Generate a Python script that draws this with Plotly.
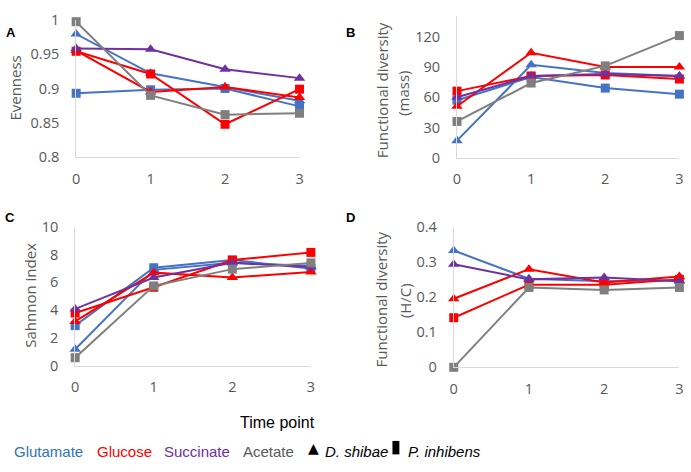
import plotly.graph_objects as go

# ---------------- data ----------------
time = [0, 1, 2, 3]
tick_labels_x = ["0", "1", "2", "3"]

# Panel A: Evenness
glu_tri_A = [0.979, 0.922, 0.902, 0.882]
glu_sq_A = [0.893, 0.898, 0.900, 0.874]
gluc_tri_A = [0.955, 0.895, 0.902, 0.887]
gluc_sq_A = [0.954, 0.921, 0.848, 0.899]
succ_tri_A = [0.958, 0.957, 0.928, 0.915]
acet_sq_A = [0.997, 0.890, 0.862, 0.864]

# Panel B: Functional diversity (mass)
glu_tri_B = [17, 92, 84, 81]
glu_sq_B = [57, 80, 69, 63]
gluc_tri_B = [51, 104, 90, 90]
gluc_sq_B = [66, 81, 82, 78]
succ_tri_B = [60, 81, 83, 81]
acet_sq_B = [36, 74, 91, 121]

# Panel C: Sahnnon index
glu_tri_C = [1.2, 6.9, 7.4, 7.2]
glu_sq_C = [2.9, 7.05, 7.6, 7.0]
gluc_tri_C = [3.2, 6.7, 6.35, 6.75]
gluc_sq_C = [3.8, 5.65, 7.6, 8.15]
succ_tri_C = [4.1, 6.35, 7.4, 7.1]
acet_sq_C = [0.6, 5.75, 6.95, 7.4]

# Panel D: Functional diversity (H/C)
glu_tri_D = [0.332, 0.252, 0.245, 0.247]
gluc_tri_D = [0.195, 0.279, 0.241, 0.258]
gluc_sq_D = [0.141, 0.235, 0.235, 0.250]
succ_tri_D = [0.293, 0.250, 0.255, 0.245]
acet_sq_D = [0.0, 0.227, 0.220, 0.227]

yticks_A = [0.8, 0.85, 0.9, 0.95, 1]
yticks_B = [0, 30, 60, 90, 120]
yticks_C = [0, 2, 4, 6, 8, 10]
yticks_D = [0, 0.1, 0.2, 0.3, 0.4]

BLUE = "#4472C4"
RED = "#FF0000"
PURPLE = "#7030A0"
GRAY = "#7F7F7F"

W, H = 691, 472

def px_x(p):
    return p / W

def px_y(p):
    return 1 - p / H

fig = go.Figure()

panels = [
    ("x", "y", [(glu_tri_A, BLUE, "triangle-up"), (glu_sq_A, BLUE, "square"),
                (gluc_tri_A, RED, "triangle-up"), (gluc_sq_A, RED, "square"),
                (succ_tri_A, PURPLE, "triangle-up"), (acet_sq_A, GRAY, "square")]),
    ("x2", "y2", [(glu_tri_B, BLUE, "triangle-up"), (glu_sq_B, BLUE, "square"),
                  (gluc_tri_B, RED, "triangle-up"), (gluc_sq_B, RED, "square"),
                  (succ_tri_B, PURPLE, "triangle-up"), (acet_sq_B, GRAY, "square")]),
    ("x3", "y3", [(glu_tri_C, BLUE, "triangle-up"), (glu_sq_C, BLUE, "square"),
                  (gluc_tri_C, RED, "triangle-up"), (gluc_sq_C, RED, "square"),
                  (succ_tri_C, PURPLE, "triangle-up"), (acet_sq_C, GRAY, "square")]),
    ("x4", "y4", [(glu_tri_D, BLUE, "triangle-up"),
                  (gluc_tri_D, RED, "triangle-up"), (gluc_sq_D, RED, "square"),
                  (succ_tri_D, PURPLE, "triangle-up"), (acet_sq_D, GRAY, "square")]),
]

for xa, ya, series in panels:
    for vals, col, sym in series:
        fig.add_trace(go.Scatter(
            x=time, y=vals, xaxis=xa, yaxis=ya, mode="lines+markers",
            line=dict(color=col, width=2),
            marker=dict(symbol=sym, size=10 if sym == "triangle-up" else 9, color=col),
            cliponaxis=False, showlegend=False, hoverinfo="skip"))

TICKFONT = dict(family="Open Sans", size=14.5, color="#595959")
AXLINE = "#D9D9D9"

def xaxis(domain, anchor):
    return dict(domain=domain, anchor=anchor, range=[0, 3], tickvals=time,
                ticktext=tick_labels_x, showgrid=False, zeroline=False,
                showline=True, linecolor=AXLINE, linewidth=1, ticks="",
                tickfont=TICKFONT, ticklabelstandoff=8, ticklabeloverflow="allow")

def yaxis(domain, anchor, rng, tv, fmt):
    return dict(domain=domain, anchor=anchor, range=rng, tickvals=tv,
                ticktext=[fmt(v) for v in tv], showgrid=False, zeroline=False,
                showline=True, linecolor=AXLINE, linewidth=1, ticks="",
                tickfont=TICKFONT, ticklabelstandoff=13, ticklabeloverflow="allow")

fig.update_layout(
    width=W, height=H, margin=dict(l=0, r=0, t=0, b=0),
    paper_bgcolor="white", plot_bgcolor="white",
    xaxis=xaxis([px_x(73), px_x(299)], "y"),
    yaxis=yaxis([px_y(153.5), px_y(10)], "x", [0.8, 1.0], yticks_A, lambda v: f"{v:g}"),
    xaxis2=xaxis([px_x(458.3), px_x(683.3)], "y2"),
    yaxis2=yaxis([px_y(154), px_y(6.65)], "x2", [0, 140], yticks_B, lambda v: f"{v:g}"),
    xaxis3=xaxis([px_x(72), px_x(310.5)], "y3"),
    yaxis3=yaxis([px_y(371), px_y(225.7)], "x3", [0, 10], yticks_C, lambda v: f"{v:g}"),
    xaxis4=xaxis([px_x(455), px_x(683.3)], "y4"),
    yaxis4=yaxis([px_y(372.3), px_y(225.7)], "x4", [0, 0.4], yticks_D, lambda v: f"{v:g}"),
)

ann = []
TITLEFONT = dict(family="Open Sans", size=15, color="#595959")
# y-axis titles
ann.append(dict(text="Evenness", x=px_x(11), y=px_y(81), textangle=-90, font=TITLEFONT))
ann.append(dict(text="Functional diversity", x=px_x(382), y=px_y(84), textangle=-90, font=TITLEFONT))
ann.append(dict(text="(mass)", x=px_x(404), y=px_y(87), textangle=-90, font=TITLEFONT))
ann.append(dict(text="Sahnnon index", x=px_x(26), y=px_y(297), textangle=-90, font=TITLEFONT))
ann.append(dict(text="Functional diversity", x=px_x(381), y=px_y(302), textangle=-90, font=TITLEFONT))
ann.append(dict(text="(H/C)", x=px_x(405), y=px_y(303), textangle=-90, font=TITLEFONT))

# panel letters
LETTERFONT = dict(family="Liberation Sans", size=13, color="black")
for lab, cx, cy in [("<b>A</b>", 7, 23.5), ("<b>B</b>", 351, 23), ("<b>C</b>", 6, 216), ("<b>D</b>", 351, 216)]:
    ann.append(dict(text=lab, x=px_x(cx), y=px_y(cy), font=LETTERFONT))

# shared x title and legend text
BOTFONT = "Liberation Sans, Arial"
ann.append(dict(text="Time point", x=px_x(277), y=px_y(429.5),
                font=dict(family=BOTFONT, size=16, color="black")))
legend_items = [
    ("Glutamate", "#2E75B6", 8),
    ("Glucose", "#FF0000", 92),
    ("Succinate", "#7030A0", 160),
    ("Acetate", "#595959", 240),
    ("<i>D. shibae</i>", "black", 323),
    ("<i>P. inhibens</i>", "black", 407),
]
for txt, col, lx in legend_items:
    ann.append(dict(text=txt, x=px_x(lx), y=px_y(460), xanchor="left",
                    font=dict(family=BOTFONT, size=15, color=col)))
ann.append(dict(text="▲", x=px_x(313.5), y=px_y(456), font=dict(family="DejaVu Sans", size=14, color="black")))

for a in ann:
    a.setdefault("xref", "paper")
    a.setdefault("yref", "paper")
    a.setdefault("showarrow", False)
    a.setdefault("xanchor", "center")
    a.setdefault("yanchor", "middle")
fig.update_layout(annotations=ann)

# legend square glyph for P. inhibens
fig.add_shape(type="rect", xref="paper", yref="paper",
              x0=px_x(393), x1=px_x(400), y0=px_y(463), y1=px_y(449),
              fillcolor="black", line=dict(width=0))

fig.write_html("out.html", config={"displayModeBar": False},
               post_script="document.body.style.margin='0';")
